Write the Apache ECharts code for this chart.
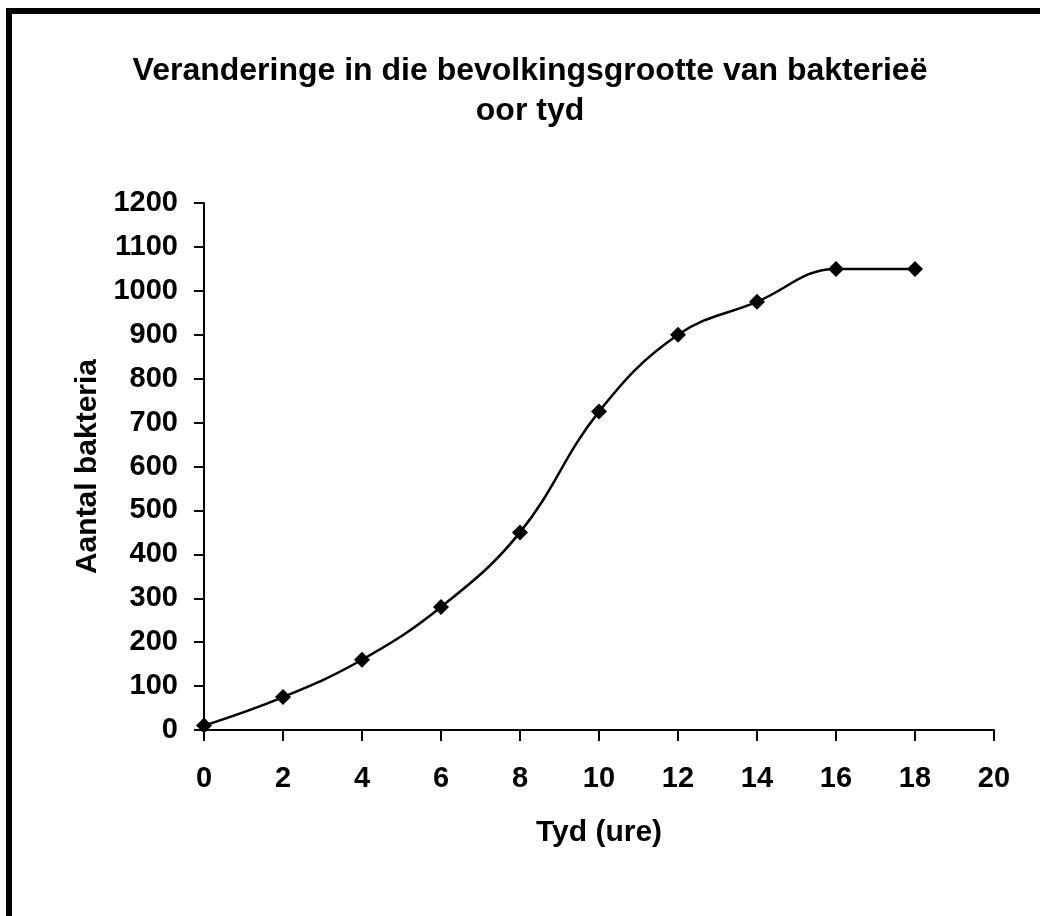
<!DOCTYPE html>
<html>
<head>
<meta charset="utf-8">
<script src="https://cdn.jsdelivr.net/npm/echarts@6/dist/echarts.min.js"></script>
<style>
  html, body { margin: 0; padding: 0; background: #fff; }
  #chart { width: 1040px; height: 916px; }
</style>
</head>
<body>
<div id="chart"></div>
<script>
// time in hours and bacteria count
const hours = [0, 2, 4, 6, 8, 10, 12, 14, 16, 18];
const bacteria = [10, 75, 160, 280, 450, 725, 900, 975, 1050, 1050];

const titleText = 'Veranderinge in die bevolkingsgrootte van bakterieë\noor tyd';
const xName = 'Tyd (ure)';
const yName = 'Aantal bakteria';

const font = '"Liberation Sans", Arial, sans-serif';

const chart = echarts.init(document.getElementById('chart'));

const option = {
    backgroundColor: '#fff',
    animation: false,
    graphic: [{
        type: 'rect',
        shape: { x: 9, y: 11, width: 1100, height: 1000 },
        style: { fill: 'none', stroke: '#000', lineWidth: 6 },
        silent: true
    }, {
        // chart title, centred a little right of the page middle
        type: 'text',
        x: 530,
        y: 51,
        silent: true,
        style: {
            text: titleText,
            align: 'center',
            verticalAlign: 'top',
            fontFamily: font,
            fontWeight: 'bold',
            fontSize: 32,
            lineHeight: 40,
            fill: '#000'
        }
    }],
    grid: {
        left: 204,
        right: 46,
        top: 203,
        bottom: 186
    },
    xAxis: {
        type: 'value',
        min: 0,
        max: 20,
        interval: 2,
        name: xName,
        nameLocation: 'middle',
        nameGap: 88,
        nameTextStyle: {
            fontFamily: font,
            fontWeight: 'bold',
            fontSize: 30,
            color: '#000'
        },
        axisLine: { show: true, onZero: false, lineStyle: { color: '#000', width: 2 } },
        axisTick: { show: true, length: 11, lineStyle: { color: '#000', width: 2 } },
        axisLabel: {
            margin: 34,
            fontFamily: font,
            fontWeight: 'bold',
            fontSize: 29,
            color: '#000'
        },
        splitLine: { show: false }
    },
    yAxis: {
        type: 'value',
        min: 0,
        max: 1200,
        interval: 100,
        name: yName,
        nameLocation: 'middle',
        nameGap: 97,
        nameTextStyle: {
            fontFamily: font,
            fontWeight: 'bold',
            fontSize: 30,
            color: '#000'
        },
        axisLine: { show: true, lineStyle: { color: '#000', width: 2 } },
        axisTick: { show: true, length: 10, lineStyle: { color: '#000', width: 2 } },
        axisLabel: {
            margin: 26,
            fontFamily: font,
            fontWeight: 'bold',
            fontSize: 29,
            color: '#000',
            formatter: v => String(v)
        },
        splitLine: { show: false }
    },
    series: [{
        type: 'line',
        data: hours.map((h, i) => [h, bacteria[i]]),
        smooth: 0.4,
        symbol: 'diamond',
        symbolSize: 16,
        showSymbol: true,
        lineStyle: { color: '#000', width: 2.5 },
        itemStyle: { color: '#000' },
        clip: false
    }]
};

chart.setOption(option);
</script>
</body>
</html>
